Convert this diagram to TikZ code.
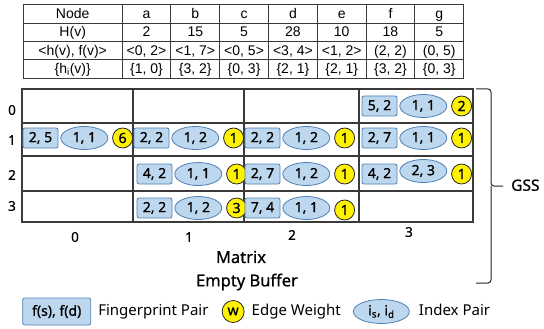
\documentclass[tikz,border=0pt]{standalone}
\usepackage{fontspec}
\setmainfont{Noto Sans}
\newfontfamily\tabfont{Liberation Sans}
\newfontfamily\heavyfont[FakeBold=0.8]{Noto Sans}
\usepackage{array}
\usepackage{colortbl}
\usepackage{tikz}
\usetikzlibrary{positioning, shapes.geometric}

\definecolor{pairfill}{HTML}{BDD7EE}
\definecolor{pairdraw}{HTML}{4F81B5}
\definecolor{weightfill}{HTML}{FFF200}
\definecolor{gridline}{HTML}{3A3A3A}

\newcolumntype{C}[1]{>{\centering\arraybackslash}p{#1}}
\newcommand{\rowstrut}{\rule[-4.3pt]{0pt}{17.6pt}}

\begin{document}
\begin{tikzpicture}[
      x=1pt, y=-1pt,
      fpair/.style={
          draw=pairdraw,
          fill=pairfill,
          rounded corners=2pt,
          minimum width=35pt,
          minimum height=20pt,
          inner sep=0pt,
          line width=0.8pt,
          font=\heavyfont\fontsize{14}{16}\selectfont
      },
      ipair/.style={
          ellipse,
          draw=pairdraw,
          fill=pairfill,
          minimum width=47pt,
          minimum height=23pt,
          inner sep=0pt,
          line width=0.8pt,
          font=\heavyfont\fontsize{14}{16}\selectfont
      },
      eweight/.style={
          circle,
          draw=black!85,
          fill=weightfill,
          minimum size=20pt,
          inner sep=0pt,
          line width=0.8pt,
          font=\heavyfont\fontsize{14}{16}\selectfont
      },
      axislabel/.style={font=\heavyfont\fontsize{13.5}{15}\selectfont, inner sep=0pt},
      title/.style={font=\heavyfont\fontsize{16.5}{19}\selectfont, inner sep=0pt},
      keytext/.style={font=\fontsize{15}{18}\selectfont, inner sep=0pt,
          text height=11pt, text depth=3.5pt},
      grid/.style={draw=gridline, line width=1.1pt},
      bracket/.style={draw=black!85, line width=1pt, rounded corners=3pt}
  ]
  \useasboundingbox (0,0) rectangle (544,329);

  % ══════════════════════════════
  % TABLE (haut)
  % ══════════════════════════════
  \node[anchor=north west, inner sep=0pt] (nodetable) at (22.7,4) {%
      \tabfont\fontsize{14}{16}\selectfont
      \setlength{\tabcolsep}{0pt}%
      \setlength{\arrayrulewidth}{0.8pt}%
      \arrayrulecolor{gridline}%
      \renewcommand{\arraystretch}{0.5}%
      \begin{tabular}{|C{98pt}|C{48pt}|C{48pt}|C{48pt}|C{48pt}|C{48pt}|C{48pt}|C{48pt}|}
      \hline
      Node & a & b & c & d & e & f & g\rowstrut \\ \hline
      H(v) & 2 & 15 & 5 & 28 & 10 & 18 & 5\rowstrut \\ \hline
      <h(v), f(v)> & <0, 2> & <1, 7> & <0, 5> & <3, 4> & <1, 2> & (2, 2) & (0, 5)\rowstrut \\ \hline
      \{h\textsubscript{i}(v)\} & \{1, 0\} & \{3, 2\} & \{0, 3\} & \{2, 1\} & \{2, 1\} & \{3, 2\} & \{0, 3\}\rowstrut \\ \hline
      \end{tabular}};

  % ══════════════════════════════
  % MATRIX : grille 4 x 4
  % ══════════════════════════════
  \draw[grid] (22,89) rectangle (473,222);
  \draw[grid] (22,123) -- (473,123)
              (22,156) -- (473,156)
              (22,191) -- (473,191)
              (133,89) -- (133,222)
              (244,89) -- (244,222)
              (359,89) -- (359,222);

  \node[axislabel] (row0) at (12,110) {0};
  \node[axislabel] (row1) at (12,140) {1};
  \node[axislabel] (row2) at (12,175) {2};
  \node[axislabel] (row3) at (12,206) {3};

  \node[axislabel] (col0) at (75,237) {0};
  \node[axislabel] (col1) at (189,237) {1};
  \node[axislabel] (col2) at (292,235) {2};
  \node[axislabel] (col3) at (409,232) {3};

  % ligne 0
  \node[fpair] (c03f) at (379.5,106) {5, 2};
  \node[ipair, right=2pt of c03f] (c03i) {1, 1};
  \node[eweight, right=4pt of c03i] (c03w) {2};

  % ligne 1
  \node[fpair] (c10f) at (40.5,138) {2, 5};
  \node[ipair, right=2pt of c10f] (c10i) {1, 1};
  \node[eweight, right=4pt of c10i] (c10w) {6};

  \node[fpair] (c11f) at (151.5,138) {2, 2};
  \node[ipair, right=2pt of c11f] (c11i) {1, 2};
  \node[eweight, right=4pt of c11i] (c11w) {1};

  \node[fpair] (c12f) at (262.5,138) {2, 2};
  \node[ipair, right=2pt of c12f] (c12i) {1, 2};
  \node[eweight, right=4pt of c12i] (c12w) {1};

  \node[fpair] (c13f) at (379.5,138) {2, 7};
  \node[ipair, right=2pt of c13f] (c13i) {1, 1};
  \node[eweight, right=4pt of c13i] (c13w) {1};

  % ligne 2
  \node[fpair] (c21f) at (154.5,174) {4, 2};
  \node[ipair, right=2pt of c21f] (c21i) {1, 1};
  \node[eweight, right=4pt of c21i] (c21w) {1};

  \node[fpair] (c22f) at (262.5,174) {2, 7};
  \node[ipair, right=2pt of c22f] (c22i) {1, 2};
  \node[eweight, right=4pt of c22i] (c22w) {1};

  \node[fpair] (c23f) at (379.5,174) {4, 2};
  \node[ipair, right=2pt of c23f, yshift=3pt] (c23i) {2, 3};
  \node[eweight, right=4pt of c23i, yshift=-3pt] (c23w) {1};

  % ligne 3
  \node[fpair] (c31f) at (154.5,208) {2, 2};
  \node[ipair, right=2pt of c31f] (c31i) {1, 2};
  \node[eweight, right=4pt of c31i] (c31w) {3};

  \node[fpair] (c32f) at (262.5,208) {7, 4};
  \node[ipair, right=2pt of c32f] (c32i) {1, 1};
  \node[eweight, right=4pt of c32i, yshift=-2pt] (c32w) {1};

  \node[title] (matrix) at (241,257) {Matrix};
  \node[title] (buffer) at (247,282) {Empty Buffer};

  % ══════════════════════════════
  % GSS : accolade
  % ══════════════════════════════
  \draw[bracket] (476,89) -| (491,186) -- (503,186);
  \draw[bracket] (476,283) -| (491,186);
  \node[keytext, anchor=west, font=\heavyfont\fontsize{15.5}{18}\selectfont] (gss) at (511,187) {GSS};

  % ══════════════════════════════
  % LÉGENDE (bas)
  % ══════════════════════════════
  \node[fpair, minimum width=68pt, minimum height=27pt] (keyfp) at (56.7,311.5)
      {f(s), f(d)};
  \node[keytext, right=7pt of keyfp] (keyfptext) {Fingerprint Pair};
  \node[eweight, minimum size=22pt, right=13pt of keyfptext] (keyw) {w};
  \node[keytext, right=7pt of keyw] (keywtext) {Edge Weight};
  \node[ipair, minimum width=56pt, minimum height=24pt, right=12pt of keywtext] (keyip)
      {i\textsubscript{s}, i\textsubscript{d}};
  \node[keytext, right=9pt of keyip] (keyiptext) {Index Pair};

\end{tikzpicture}
\end{document}
